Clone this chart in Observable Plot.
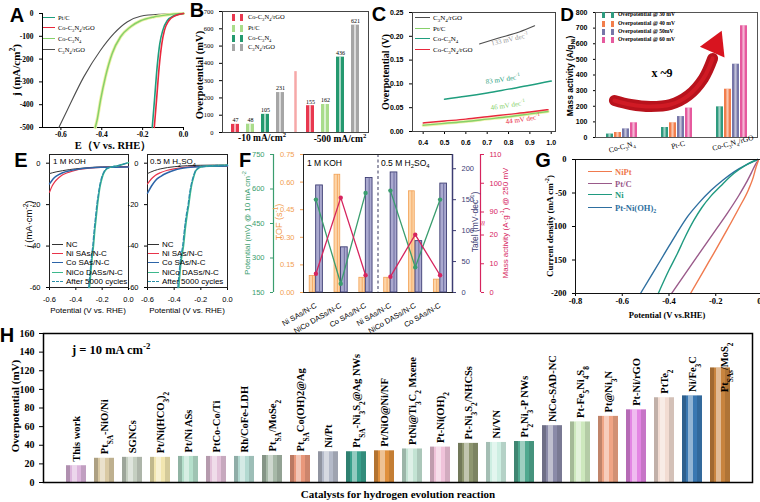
<!DOCTYPE html>
<html><head><meta charset="utf-8">
<script src="https://cdn.jsdelivr.net/npm/d3@7"></script>
<script src="https://cdn.jsdelivr.net/npm/@observablehq/plot@0.6"></script>
<style>
body{margin:0;background:#fff}
#fig{position:relative;width:760px;height:502px;overflow:hidden;background:#fff}
#fig sub,#fig sup{font-size:70%;line-height:0}
</style></head><body><div id="fig"></div>
<script>
// ---------------- DATA ----------------
// A: LSV curves [E (V vs RHE), j (mA/cm2)]
const A_PtC=[[-0.153,-500],[-0.142,-380],[-0.129,-234],[-0.116,-132],[-0.101,-73],[-0.08,-32],[-0.047,-10],[0,0]];
const A_CoC3N4rGO=[[-0.143,-500],[-0.132,-380],[-0.119,-234],[-0.106,-132],[-0.093,-73],[-0.072,-32],[-0.041,-10],[0,0]];
const A_CoC3N4=[[-0.432,-500],[-0.423,-468],[-0.406,-380],[-0.382,-278],[-0.349,-175],[-0.308,-102],[-0.259,-58],[-0.21,-32],[-0.145,-15],[-0.08,-6],[-0.03,-1],[0,0]];
const A_C3N4rGO=[[-0.61,-500],[-0.569,-424],[-0.488,-278],[-0.406,-161],[-0.341,-88],[-0.276,-37],[-0.21,-12],[-0.113,-3],[0,0]];
const A_xticks=[-0.6,-0.4,-0.2,0], A_yticks=[-500,-400,-300,-200,-100,0];
// B: overpotential bars
const B_groups=["-10 mA/cm²","-500 mA/cm²"];
const B_series=["Co-C_{3}N_{4}/rGO","Pt/C","Co-C_{3}N_{4}","C_{3}N_{4}/rGO"];
const B_at10=[47,48,105,231];
const B_at500=[155,162,436,621];
const B_divider=[352];
const B_yticks=[0,100,200,300,400,500,600,700];
// C: Tafel lines [log j, overpotential V]
const C_C3N4rGO=[[0.664,0.184],[0.75,0.196],[0.85,0.209],[0.922,0.222]];
const C_PtC=[[0.4,0.013],[0.5,0.017],[0.6,0.021],[0.7,0.026],[0.8,0.031],[0.9,0.037],[0.985,0.042]];
const C_CoC3N4=[[0.5,0.068],[0.6,0.074],[0.7,0.081],[0.8,0.089],[0.9,0.097],[1.0,0.106]];
const C_CoC3N4rGO=[[0.4,0.018],[0.5,0.022],[0.6,0.026],[0.7,0.031],[0.8,0.036],[0.9,0.041],[0.985,0.046]];
const C_slopes=["133 mV dec<sup>-1</sup>","83 mV dec<sup>-1</sup>","46 mV dec<sup>-1</sup>","44 mV dec<sup>-1</sup>"];
const C_xticks=[0.4,0.5,0.6,0.7,0.8,0.9,1.0], C_yticks=[0,0.05,0.1,0.15,0.2,0.25];
// D: mass activity
const D_groups=["Co-C3N4","Pt-C","Co-C3N4/rGO"];
const D_series=["Overpotential @ 30 mV","Overpotential @ 40 mV","Overpotential @ 50mV","Overpotential @ 60 mV"];
const D_30=[22,64,196], D_40=[32,94,309], D_50=[55,134,469], D_60=[94,188,715];
const D_yticks=[0,100,200,300,400,500,600,700,800];
const D_arrowPath=[[-0.15,237],[0.15,211],[0.52,198],[0.89,211],[1.22,269],[1.5,378],[1.67,506]];
const D_arrowHead=[[1.72,592]];
// E: LSV [V vs RHE, j]
const E_KOH_NC=[[-0.6,-5],[-0.55,-4.2],[-0.5,-3.6],[-0.45,-3.1],[-0.4,-2.7],[-0.35,-2.4],[-0.3,-2.1],[-0.25,-1.9],[-0.2,-1.8],[-0.1,-1.7],[0,-1.6]];
const E_KOH_Ni=[[-0.6,-14],[-0.58,-11],[-0.56,-9],[-0.53,-7],[-0.5,-5.6],[-0.45,-4.3],[-0.4,-3.4],[-0.35,-2.8],[-0.3,-2.4],[-0.25,-2.1],[-0.2,-2],[-0.1,-1.9],[0,-1.8]];
const E_KOH_Co=[[-0.6,-10],[-0.58,-8.2],[-0.56,-6.8],[-0.53,-5.5],[-0.5,-4.6],[-0.45,-3.7],[-0.4,-3.1],[-0.35,-2.6],[-0.3,-2.3],[-0.25,-2.1],[-0.2,-2],[-0.1,-1.9],[0,-1.8]];
const E_KOH_NiCo=[[-0.296,-60],[-0.285,-52],[-0.275,-45],[-0.266,-40],[-0.255,-32],[-0.245,-26],[-0.235,-20],[-0.225,-15],[-0.215,-11],[-0.2,-7],[-0.185,-4.5],[-0.17,-3],[-0.15,-2.2],[-0.12,-1.7],[-0.08,-1.2],[-0.04,-0.5],[0,0.3]];
const E_KOH_After=[[-0.302,-60],[-0.29,-52],[-0.28,-45],[-0.271,-40],[-0.26,-32],[-0.25,-26],[-0.24,-20],[-0.229,-15],[-0.219,-11],[-0.204,-7],[-0.189,-4.5],[-0.173,-3],[-0.152,-2.2],[-0.12,-1.7],[-0.08,-1.2],[-0.04,-0.5],[0,0.3]];
const E_ACID_NC=[[-0.6,-5],[-0.55,-3.6],[-0.5,-2.7],[-0.45,-2.1],[-0.4,-1.7],[-0.35,-1.4],[-0.3,-1.2],[-0.25,-1.05],[-0.2,-1],[-0.1,-0.9],[0,-0.9]];
const E_ACID_Ni=[[-0.6,-10],[-0.57,-7.5],[-0.54,-5.8],[-0.5,-4.5],[-0.45,-3.4],[-0.4,-2.7],[-0.35,-2.2],[-0.3,-1.9],[-0.25,-1.7],[-0.2,-1.6],[-0.1,-1.5],[0,-1.4]];
const E_ACID_Co=[[-0.6,-14.5],[-0.57,-11],[-0.54,-8.3],[-0.5,-6.3],[-0.45,-4.6],[-0.4,-3.4],[-0.35,-2.6],[-0.3,-2.1],[-0.25,-1.8],[-0.2,-1.6],[-0.1,-1.5],[0,-1.4]];
const E_ACID_NiCo=[[-0.365,-60],[-0.355,-52],[-0.345,-46],[-0.33,-40],[-0.315,-31],[-0.3,-24],[-0.29,-20],[-0.28,-15],[-0.27,-11],[-0.255,-7],[-0.24,-4],[-0.22,-2.5],[-0.2,-1.8],[-0.15,-1.4],[-0.1,-1.2],[0,-1]];
const E_ACID_After=[[-0.372,-60],[-0.361,-52],[-0.351,-46],[-0.336,-40],[-0.321,-31],[-0.306,-24],[-0.295,-20],[-0.285,-15],[-0.274,-11],[-0.259,-7],[-0.243,-4],[-0.222,-2.5],[-0.2,-1.8],[-0.15,-1.4],[-0.1,-1.2],[0,-1]];
const E_legend=["NC","Ni SAs/N-C","Co SAs/N-C","NiCo DASs/N-C","After 5000 cycles"];
const E_xticks=[-0.6,-0.4,-0.2,0], E_yticks=[-60,-40,-20,0];
// F: multi-metric comparison
const F_cats=["Ni SAs/N-C","NiCo DASs/N-C","Co SAs/N-C","Ni SAs/N-C","NiCo DASs/N-C","Co SAs/N-C"];
const F_electrolyte=["KOH","KOH","KOH","H2SO4","H2SO4","H2SO4"];
const F_tof=[0.09,0.64,0.08,0.08,0.55,0.07];
const F_tafel=[173,73,185,194,83,176];
const F_potential=[554,188,583,593,260,554];
const F_mass=[6.5,95,6,5.5,21,6];
const F_tofTicks=[0,0.15,0.3,0.45,0.6,0.75], F_tafelTicks=[0,50,100,150,200], F_potTicks=[150,300,450,600,750], F_massTicks=[0,10,20,90,100,110];
// G: polarization curves
const G_NiPt=[[-0.308,-200],[-0.25,-165],[-0.2,-135],[-0.15,-104],[-0.1,-72],[-0.06,-45],[-0.04,-27],[-0.028,-12],[-0.018,-2]];
const G_PtC=[[-0.389,-200],[-0.3,-155],[-0.2,-105],[-0.15,-80],[-0.1,-53],[-0.07,-35],[-0.045,-18],[-0.028,-6],[-0.018,-1]];
const G_Ni=[[-0.446,-200],[-0.4,-165],[-0.365,-141],[-0.33,-115],[-0.294,-91],[-0.26,-72],[-0.222,-55],[-0.18,-40],[-0.14,-26],[-0.1,-15],[-0.06,-6],[-0.02,0]];
const G_PtNiOH=[[-0.522,-200],[-0.47,-170],[-0.42,-141],[-0.37,-112],[-0.32,-85],[-0.27,-64],[-0.22,-46],[-0.17,-31],[-0.12,-18],[-0.07,-8],[-0.02,0]];
const G_legend=["NiPt","Pt/C","Ni","Pt-Ni(OH)<sub>2</sub>"];
const G_xticks=[-0.8,-0.6,-0.4,-0.2,0], G_yticks=[-200,-150,-100,-50,0];
// H: literature comparison
const H_names=["This work","Pt_{SA}-NiO/Ni","SGNCs","Pt/Ni(HCO_{3})_{2}","Pt/Ni ASs","PtCo-Co/Ti","Rh/CoFe-LDH","Pt_{SA}/MoSe_{2}","Pt_{SA}Co(OH)2@Ag","Ni/Pt","Pt_{SA}-Ni_{3}S_{2}@Ag NWs","Pt/NiO@Ni/NF","PtNi@Ti_{3}C_{2} Mxene","Pt-Ni(OH)_{2}","Pt-Ni_{3}S_{2}/NHCSs","Ni/VN","Pt_{2}Ni_{3}-P NWs","NiCo-SAD-NC","Pt-Fe_{5}Ni_{4}S_{8}","Pt@Ni_{3}N","Pt-Ni/rGO","PtTe_{2}","Ni/Fe_{3}C","Pt_{SAs}/MoS_{2}"];
const H_values=[18,26,27,27,28,28,28,29,29,33,33,34,36,38,42,43,44,61,65,71,78,91,93,123];
const H_yticks=[0,20,40,60,80,100,120,140,160];

// ---------------- STYLES / HELPERS ----------------
const H_colors=["#dcb5dc","#d9c9a3","#c5cfc1","#f2e6b0","#b5e0cc","#e3c1d9","#b3d9d1","#a7b9a8","#e9987b","#b4bac9","#3aa08c","#e0903c","#c3e3d3","#f0c3da","#8e9670","#cdeee2","#4fa88f","#8a8aa8","#cde8bd","#f0a585","#e386e3","#f2dcd2","#3a78b2","#c8843e"];
const B_colors=["#e8384f","#a9dc8a","#24996f","#a6a6a6"];
const D_colors=["#2f9b7f","#f27e4c","#7676a8","#e65a9e"];
const ORANGE="#f2a054", NAVY="#3d3d73", GREEN="#3a9d6e", PINK="#d6245e";
const SERIF='"Liberation Serif","Times New Roman",serif', SANS='"Liberation Sans",Arial,sans-serif';
const fig=document.getElementById("fig");
const sty=(f,s,w)=>({fontFamily:f,fontSize:s+"px",fontWeight:w,background:"transparent",overflow:"visible",color:"#000"});
const P=i=>d=>d[i];
function rich(root){
  const NS="http://www.w3.org/2000/svg";
  root.querySelectorAll("text").forEach(t=>{
    const leaves=t.querySelector("tspan")?[...t.querySelectorAll("tspan")]:[t];
    leaves.forEach(el=>{
      const s=el.textContent; if(!/[_^]\{/.test(s)) return;
      el.textContent="";
      const add=(txt,sh)=>{const sp=document.createElementNS(NS,"tspan");sp.textContent=txt;if(sh){sp.setAttribute("baseline-shift",sh);sp.style.fontSize="70%";}el.appendChild(sp);};
      const re=/([_^])\{([^}]*)\}/g; let last=0,m;
      while((m=re.exec(s))){ if(m.index>last) add(s.slice(last,m.index)); add(m[2],m[1]==="_"?"sub":"super"); last=re.lastIndex; }
      if(last<s.length) add(s.slice(last));
    });
  });
}
function put(svg,left,top){svg.style.position="absolute";svg.style.left=left+"px";svg.style.top=top+"px";rich(svg);fig.appendChild(svg);return svg;}
const html=s=>s.replace(/_\{([^}]*)\}/g,"<sub>$1</sub>").replace(/\^\{([^}]*)\}/g,"<sup>$1</sup>");
function lab(h,x,y,o={}){
  const d=document.createElement("div"); d.innerHTML=html(h);
  const ax=o.ax??-50;
  Object.assign(d.style,{position:"absolute",left:x+"px",top:y+"px",transform:`translate(${ax}%,-50%) rotate(${o.rot||0}deg)`,
    whiteSpace:"nowrap",fontFamily:o.f||SERIF,fontSize:(o.s||10)+"px",fontWeight:o.w||"bold",color:o.c||"#000",lineHeight:"1"});
  fig.appendChild(d); return d;
}
function sw(x,y,w,c,o={}){const t=o.t||1.5;const d=document.createElement("div");
  Object.assign(d.style,{position:"absolute",left:x+"px",top:(y-t/2)+"px",width:w+"px",height:"0",borderTop:`${t}px ${o.dash?"dashed":"solid"} ${c}`});fig.appendChild(d);}
function sw2(x,y,c,w=3,h=7,gap=5){for(const dx of [0,w+gap]){const d=document.createElement("div");
  Object.assign(d.style,{position:"absolute",left:(x+dx)+"px",top:(y-h/2)+"px",width:w+"px",height:h+"px",background:c});fig.appendChild(d);}}
const line=(d,c,w,extra={})=>Plot.line(d,{x:P(0),y:P(1),stroke:c,strokeWidth:w,curve:"monotone-x",...extra});

// ---------------- A ----------------
put(Plot.plot({width:190,height:160,marginLeft:42,marginRight:7,marginTop:13,marginBottom:33,style:sty(SERIF,7.5,"bold"),
  x:{domain:[-0.69,0],ticks:A_xticks,tickFormat:d=>d.toFixed(1),tickSize:3,tickPadding:1,label:null},
  y:{domain:[-500,0],ticks:A_yticks,tickFormat:d=>String(d),tickSize:3,label:null},
  marks:[Plot.ruleX([-0.69]),Plot.ruleY([-500]),
    line(A_C3N4rGO,"#4d4d4d",1.1),
    line(A_CoC3N4,"#eef2a8",3.2),line(A_CoC3N4,"#86d06a",1.5),
    line(A_PtC,"#1f9e7e",1.6),line(A_CoC3N4rGO,"#e8283c",1.6)]}),0,0);
[["Pt/C","#1f9e7e"],["Co-C_{3}N_{4}/rGO","#e8283c"],["Co-C_{3}N_{4}","#86d06a"],["C_{3}N_{4}/rGO","#4d4d4d"]].forEach(([t,c],i)=>{
  const y=[18,28,39,50][i]; sw(43,y,12,c); lab(t,58,y,{ax:0,s:6.5,w:"normal"});});
lab("j (mA/cm^{2})",16,70,{rot:-90,s:11});
lab("E（V vs. RHE）",113,146,{s:10.5});

// ---------------- B ----------------
{
const rows=[];
B_groups.forEach((g,gi)=>B_series.forEach((s,si)=>rows.push({k:g+"|"+s,v:(gi?B_at500:B_at10)[si],c:B_colors[si]})));
const xdom=[...rows.slice(0,4).map(d=>d.k),"divider",...rows.slice(4).map(d=>d.k)];
put(Plot.plot({width:180,height:150,marginLeft:32,marginRight:2,marginTop:11,marginBottom:18,style:sty(SERIF,6.5,"normal"),
  x:{domain:xdom,axis:null,paddingInner:0.5,paddingOuter:0.5},
  y:{domain:[0,700],ticks:B_yticks,tickSize:3,label:null},
  color:{type:"identity"},
  marks:[Plot.ruleX(B_divider,{x:()=>"divider",y1:0,y2:d=>d,stroke:"#f6a8a8",strokeWidth:2.5}),
    Plot.barY(rows,{x:"k",y:"v",fill:"c"}),
    Plot.barY(rows,{x:"k",y:"v",fill:"white",fillOpacity:0.6,insetLeft:3,insetRight:3}),
    Plot.text(rows,{x:"k",y:"v",text:d=>String(d.v),dy:-4,fontSize:6}),
    Plot.frame({stroke:"#444"})]}),190,0);
B_series.forEach((s,i)=>{const y=[17,28,38,47][i]; sw2(232,y,B_colors[i]); lab(s,248,y,{ax:0,s:6.5,w:"normal"});});
lab("-10 mA/cm^{2}",262,139,{s:9.5});
lab("-500 mA/cm^{2}",340,140,{s:9.5});
lab("Overpotential (mV)",200,75,{rot:-90,s:10.5});
}

// ---------------- C ----------------
put(Plot.plot({width:190,height:150,marginLeft:42,marginRight:5,marginTop:12,marginBottom:19,style:sty(SANS,7,"bold"),
  x:{domain:[0.35,1.02],ticks:C_xticks,tickFormat:d=>d.toFixed(1),tickSize:3,label:null},
  y:{domain:[0,0.25],ticks:C_yticks,tickFormat:d=>d.toFixed(2),tickSize:3,label:null},
  marks:[line(C_C3N4rGO,"#4d4d4d",1.1),line(C_CoC3N4,"#1f9e7e",1.5),
    line(C_PtC,"#eef2a8",3),line(C_PtC,"#86d06a",1.4),line(C_CoC3N4rGO,"#e8283c",1.4),
    Plot.frame({stroke:"#444"})]}),370,0);
[["C_{3}N_{4}/rGO","#4d4d4d"],["Pt/C","#86d06a"],["Co-C_{3}N_{4}","#1f9e7e"],["Co-C_{3}N_{4}/rGO","#e8283c"]].forEach(([t,c],i)=>{
  const y=[18,29,39,50][i]; sw(415,y,15,c); lab(t,433,y,{ax:0,s:7,w:"normal"});});
lab(C_slopes[0],510,40,{rot:-13,s:7,w:"normal",c:"#9a9a9a"});
lab(C_slopes[1],503,80,{rot:-8,s:7,w:"normal",c:"#1f9e7e"});
lab(C_slopes[2],508,106,{rot:-8,s:7,w:"normal",c:"#86d06a"});
lab(C_slopes[3],523,120,{rot:-8,s:7,w:"normal",c:"#e8283c"});
lab("Overpotential (V)",386,72,{rot:-90,s:10});

// ---------------- D ----------------
{
const rows=[];
D_groups.forEach((g,gi)=>D_series.forEach((s,si)=>rows.push({g,s,v:[D_30,D_40,D_50,D_60][si][gi],c:D_colors[si]})));
put(Plot.plot({width:200,height:160,marginLeft:35,marginRight:3,marginTop:12,marginBottom:23,style:sty(SANS,7,"bold"),
  fx:{domain:D_groups,axis:null,padding:0.1},
  x:{domain:D_series,axis:null,paddingInner:0.15,paddingOuter:1.2},
  y:{domain:[0,800],ticks:D_yticks,tickSize:3,label:null},
  color:{type:"identity"},
  marks:[Plot.barY(rows,{fx:"g",x:"s",y:"v",fill:"c"}),
    Plot.barY(rows,{fx:"g",x:"s",y:"v",fill:"white",fillOpacity:0.55,insetLeft:2.4,insetRight:2.4})]}),560,0);
put(Plot.plot({width:200,height:160,marginLeft:35,marginRight:3,marginTop:12,marginBottom:23,style:sty(SANS,7,"bold"),
  x:{domain:[-0.5,2.5],axis:null},y:{domain:[0,800],axis:null},
  marks:[Plot.frame({stroke:"#555"}),
    Plot.line(D_arrowPath,{x:P(0),y:P(1),curve:"catmull-rom",stroke:"#b8121c",strokeWidth:11}),
    Plot.line(D_arrowPath,{x:P(0),y:P(1),curve:"catmull-rom",stroke:"#e0202a",strokeWidth:4,strokeOpacity:0.6}),
    Plot.dot(D_arrowHead,{x:P(0),y:P(1),symbol:"triangle",r:10,rotate:24,fill:"#d8141f"})]}),560,0);
D_series.forEach((s,i)=>{const y=[15,24,32,40][i]; sw2(602,y,D_colors[i],3,6,6); lab(s,618,y,{ax:0,s:5.6});});
lab("x ~9",662,73,{s:12});
lab("Co-C_{3}N_{4}",622,147,{rot:-15,s:7.5,w:"normal"});
lab("Pt-C",678,145,{rot:-15,s:7.5,w:"normal"});
lab("Co-C_{3}N_{4}/rGO",733,143,{rot:-15,s:7.5,w:"normal"});
lab("Mass activity (A/g_{Ni})",570,76,{rot:-90,f:SANS,s:8.5});
}

// ---------------- E ----------------
function plotE(series,left,width,mL,mR){
  const marks=[Plot.frame({stroke:"#222"})];
  series.forEach(([d,c,w,dash])=>marks.push(line(d,c,w,dash?{strokeDasharray:dash}:{})));
  put(Plot.plot({width,height:160,marginLeft:mL,marginRight:mR,marginTop:9,marginBottom:18,style:sty(SANS,7.5,"normal"),
    x:{domain:[-0.6,0],ticks:E_xticks,tickFormat:d=>d.toFixed(1),tickSize:3,label:null},
    y:{domain:[-60,4.2],ticks:E_yticks,tickFormat:d=>String(d),tickSize:3,label:null},marks}),left,145);
}
const E_cols=["#333","#e8344a","#2c64a8","#3cb88c","#2a8fa8"];
plotE([[E_KOH_NC,E_cols[0],1],[E_KOH_Ni,E_cols[1],1.2],[E_KOH_Co,E_cols[2],1.5],[E_KOH_NiCo,E_cols[3],1.5],[E_KOH_After,E_cols[4],1.4,"4,2"]],0,135,49,7);
plotE([[E_ACID_NC,E_cols[0],1],[E_ACID_Ni,E_cols[1],1.2],[E_ACID_Co,E_cols[2],1.5],[E_ACID_NiCo,E_cols[3],1.5],[E_ACID_After,E_cols[4],1.4,"4,2"]],135,100,12,8);
[52,148].forEach(x0=>E_legend.forEach((t,i)=>{const y=[245,254,263,273,282][i]; sw(x0,y,11,E_cols[i],{dash:i===4,t:i===4?1.6:1.5}); lab(t,x0+14,y,{ax:0,f:SANS,s:8,w:"normal"});}));
lab("1 M KOH",53,162,{ax:0,f:SANS,s:8,w:"normal"});
lab("0.5 M H_{2}SO_{4}",150,162,{ax:0,f:SANS,s:8,w:"normal"});
lab("<i>j</i> (mA·cm^{-2})",29,224,{rot:-90,f:SANS,s:9.5,w:"normal"});
lab("Potential (V vs. RHE)",88,311,{f:SANS,s:8,w:"normal"});
lab("Potential (V vs. RHE)",187,311,{f:SANS,s:8,w:"normal"});

// ---------------- F ----------------
{
const rows=F_cats.map((c,i)=>({i,c,g:F_electrolyte[i],tof:F_tof[i],tafel:F_tafel[i],pot:F_potential[i],mass:F_mass[i]}));
const base={width:270,height:175,marginLeft:63,marginRight:58,marginTop:9,marginBottom:28,style:sty(SANS,7.5,"normal")};
const X={domain:[-0.5,5.5],axis:null,label:null};
// broken mass-activity axis: 0–20 and 90–110 shown, 20–90 compressed
const brk=v=>v<=20?v:v>=90?28+(v-90):20+(v-20)*8/70;
put(Plot.plot({...base,x:X,y:{domain:[0,0.75],axis:null},
  marks:[Plot.rectY(rows,{x1:d=>d.i-0.25,x2:d=>d.i-0.02,y:"tof",fill:"#fdd5a8",stroke:ORANGE,strokeWidth:0.8}),
    Plot.ruleX(rows,{x:d=>d.i-0.135,y1:0,y2:"tof",stroke:ORANGE,strokeWidth:0.8}),
    Plot.ruleX([2.5],{stroke:"#5a5a7a",strokeDasharray:"3,2.5",strokeWidth:1.2}),
    Plot.axisY({anchor:"left",ticks:F_tofTicks,tickFormat:d=>d.toFixed(2),tickSize:3,color:ORANGE,label:null}),
    Plot.axisX({anchor:"bottom",ticks:[0,1,2,3,4,5],tickFormat:i=>F_cats[i],tickRotate:-30,tickSize:0,label:null}),
    Plot.frame({stroke:"#222"})]}),240,145);
put(Plot.plot({...base,x:X,y:{domain:[0,223],axis:null},
  marks:[Plot.rectY(rows,{x1:d=>d.i+0.01,x2:d=>d.i+0.28,y:"tafel",fill:"#aaa9cf",stroke:NAVY,strokeWidth:0.9}),
    Plot.ruleX(rows,{x:d=>d.i+0.145,y1:0,y2:"tafel",stroke:"#6f6fa0",strokeWidth:1}),
    Plot.ruleX([5.5],{stroke:NAVY,strokeWidth:1.5}),
    Plot.axisY({anchor:"right",ticks:F_tafelTicks,tickSize:3,color:NAVY,label:null})]}),240,145);
put(Plot.plot({...base,x:X,y:{domain:[150,750],axis:null},
  marks:[Plot.ruleX([-0.5],{dx:-30,stroke:GREEN,strokeWidth:1.2}),
    Plot.axisY({anchor:"left",ticks:F_potTicks,tickSize:3,dx:-30,color:GREEN,label:null}),
    Plot.line(rows,{x:"i",y:"pot",z:"g",stroke:GREEN,strokeWidth:1.3}),
    Plot.dot(rows,{x:"i",y:"pot",fill:GREEN,r:2.2})]}),240,145);
put(Plot.plot({...base,x:X,y:{domain:[0,48],axis:null},
  marks:[Plot.ruleX([5.5],{dx:28,stroke:PINK,strokeWidth:1.2}),
    Plot.axisY({anchor:"right",ticks:F_massTicks.map(brk),tickFormat:(t,i)=>String(F_massTicks[i]),tickSize:3,dx:28,color:PINK,label:null}),
    Plot.line(rows,{x:"i",y:d=>brk(d.mass),z:"g",stroke:PINK,strokeWidth:1.3}),
    Plot.dot(rows,{x:"i",y:d=>brk(d.mass),fill:PINK,r:2.2})]}),240,145);
lab("≈",483,223,{f:SANS,s:9,w:"normal",c:PINK,rot:-90});
lab("1 M KOH",307,163,{ax:0,f:SANS,s:8.5,w:"normal"});
lab("0.5 M H_{2}SO_{4}",381,163,{ax:0,f:SANS,s:8.5,w:"normal"});
lab("Potential (mV) @ 10 mA cm^{-2}",248,223,{rot:-90,f:SANS,s:8,w:"normal",c:GREEN});
lab("TOF (s^{-1})",279,222,{rot:-90,f:SANS,s:9,w:"normal",c:ORANGE});
lab("Tafel (mV·dec^{-1})",475,222,{rot:-90,f:SANS,s:8.5,w:"normal",c:NAVY});
lab("Mass activity (A·g^{-1}) @ 250 mV",506,223,{rot:-90,f:SANS,s:8,w:"normal",c:PINK});
}

// ---------------- G ----------------
{
const cols=["#f07a4e","#9a5a8a","#1f9a80","#2e6fa0"];
put(Plot.plot({width:280,height:160,marginLeft:85,marginRight:8,marginTop:9,marginBottom:17,style:sty(SERIF,8.5,"bold"),
  x:{domain:[-0.8,0],ticks:G_xticks,tickFormat:d=>d.toFixed(1),tickSize:3,tickPadding:1,label:null},
  y:{domain:[-200,0],ticks:G_yticks,tickFormat:d=>String(d),tickSize:3,label:null},
  marks:[line(G_PtNiOH,cols[3],1.4),line(G_Ni,cols[2],1.4),line(G_PtC,cols[1],1.4),line(G_NiPt,cols[0],1.4),
    Plot.frame({stroke:"#111"})]}),490,150);
G_legend.forEach((t,i)=>{const y=[172,184,195,208][i]; sw(588,y,24,cols[i]); lab(t,615,y,{ax:0,s:8.5,c:cols[i]});});
lab("Current density (mA cm^{-2})",550,226,{rot:-90,s:9});
lab("Potential (V vs.RHE)",667,315,{s:8.5});
}

// ---------------- H ----------------
{
const rows=H_names.map((n,i)=>({n,v:H_values[i],c:H_colors[i]}));
put(Plot.plot({width:760,height:184,marginLeft:43,marginRight:8,marginTop:15,marginBottom:20,style:sty(SERIF,10,"bold"),
  x:{domain:H_names,axis:null,paddingInner:0.29,paddingOuter:0.71},
  y:{domain:[0,160],ticks:H_yticks,tickSize:4,label:null},
  color:{type:"identity"},
  marks:[Plot.barY(rows,{x:"n",y:"v",fill:"c"}),
    Plot.barY(rows,{x:"n",y:"v",fill:"black",fillOpacity:0.2,insetRight:16}),
    Plot.barY(rows,{x:"n",y:"v",fill:"black",fillOpacity:0.12,insetLeft:15}),
    Plot.barY(rows,{x:"n",y:"v",fill:"white",fillOpacity:0.45,insetLeft:6,insetRight:9}),
    Plot.text(rows.filter(d=>d.v<110),{x:"n",y:"v",text:"n",rotate:-90,textAnchor:"start",dy:-4,fontSize:10.5}),
    Plot.text(rows.filter(d=>d.v>=110),{x:"n",frameAnchor:"top",text:"n",rotate:-90,textAnchor:"end",dy:9,fontSize:10.5}),
    Plot.frame({stroke:"#000",strokeWidth:1.5})]}),0,318);
lab("j = 10 mA cm^{-2}",72,350,{ax:0,s:12.5});
lab("Overpotential (mV)",15,406,{rot:-90,s:11});
lab("Catalysts for hydrogen evolution reaction",398,494,{s:11});
}

// ---------------- panel letters ----------------
[["A",17,15,20],["B",197,10,20],["C",379,14,20],["D",567,14,19],["E",21,160,20],["F",245,160,20],["G",543,160,20],["H",7,335,20]]
  .forEach(([t,x,y,s])=>lab(t,x,y,{f:SANS,s}));
</script></body></html>
